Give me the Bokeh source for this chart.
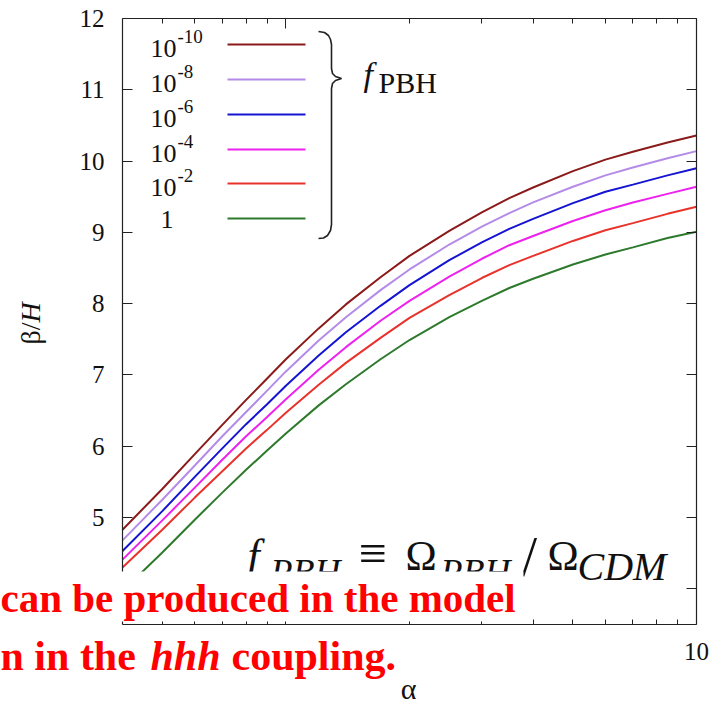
import math
from bokeh.plotting import figure
from bokeh.models import (Range1d, FixedTicker, LogAxis, LinearAxis, Label,
                          PolyAnnotation)
from bokeh.embed import file_html
from bokeh.resources import INLINE

# alpha values and beta/H for each PBH fraction
alpha = [0.4, 0.5, 0.6, 0.7, 0.8, 0.9, 1.0, 1.2, 1.4, 1.7,
         2.0, 2.5, 3.0, 3.5, 4.0, 5.0, 6.0, 7.0, 8.5, 10.0]
beta_h_f1e10 = [4.83, 5.40, 5.89, 6.30, 6.65, 6.95, 7.22, 7.65, 7.99, 8.37,
                8.67, 9.02, 9.28, 9.48, 9.63, 9.86, 10.02, 10.13, 10.26, 10.36]
beta_h_f1e8 = [4.68, 5.25, 5.73, 6.14, 6.48, 6.78, 7.05, 7.48, 7.81, 8.19,
               8.48, 8.83, 9.08, 9.27, 9.42, 9.64, 9.80, 9.91, 10.04, 10.14]
beta_h_f1e6 = [4.53, 5.09, 5.57, 5.97, 6.31, 6.59, 6.85, 7.27, 7.60, 7.97,
               8.26, 8.61, 8.86, 9.05, 9.19, 9.41, 9.57, 9.67, 9.80, 9.90]
beta_h_f1e4 = [4.41, 4.96, 5.42, 5.81, 6.14, 6.41, 6.66, 7.07, 7.39, 7.76,
               8.04, 8.38, 8.63, 8.82, 8.95, 9.16, 9.31, 9.42, 9.54, 9.64]
beta_h_f1e2 = [4.30, 4.83, 5.28, 5.65, 5.97, 6.23, 6.47, 6.86, 7.17, 7.52,
               7.80, 8.12, 8.36, 8.54, 8.67, 8.88, 9.03, 9.13, 9.26, 9.36]
beta_h_f1 = [3.97, 4.51, 4.97, 5.35, 5.67, 5.94, 6.18, 6.57, 6.87, 7.22,
             7.49, 7.81, 8.04, 8.22, 8.35, 8.55, 8.69, 8.79, 8.92, 9.01]

series = [beta_h_f1e10, beta_h_f1e8, beta_h_f1e6, beta_h_f1e4, beta_h_f1e2, beta_h_f1]
legend_base = ["10", "10", "10", "10", "10", "1"]
legend_exp = ["-10", "-8", "-6", "-4", "-2", ""]
colors = ["#8b1a1a", "#b48ce8", "#1414d2", "#ee22ee", "#e8322a", "#2d7a2d"]

x_bounds = (0.4, 10.0)
y_bounds = (3.5, 12.0)
y_ticks = [4, 5, 6, 7, 8, 9, 10, 11, 12]
x_ticks = [1, 10]
x_minor = [0.5, 0.6, 0.7, 0.8, 0.9, 2, 3, 4, 5, 6, 7, 8, 9]

SERIF = "Liberation Serif"
INK = "#222222"

# canvas size and where the axes box sits on it (pixels)
W, H = 716, 707
BOX_L, BOX_R, BOX_T, BOX_B = 122, 696, 18, 624

# widen the ranges so the axes box lands at the pixels above while the
# frame spans the whole canvas
px_per_dec = (BOX_R - BOX_L) / math.log10(x_bounds[1] / x_bounds[0])
x0 = x_bounds[0] * 10 ** (-BOX_L / px_per_dec)
x1 = x_bounds[1] * 10 ** ((W - BOX_R) / px_per_dec)
px_per_unit = (BOX_B - BOX_T) / (y_bounds[1] - y_bounds[0])
y1 = y_bounds[1] + BOX_T / px_per_unit
y0 = y_bounds[0] - (H - BOX_B) / px_per_unit

p = figure(width=W, height=H, x_axis_type="log",
           x_range=Range1d(x0, x1), y_range=Range1d(y0, y1),
           min_border=0, min_border_left=0, min_border_right=0,
           min_border_top=0, min_border_bottom=0,
           output_backend="svg", toolbar_location=None,
           background_fill_color="white", border_fill_color="white")
p.grid.visible = False
p.outline_line_color = None

xt = FixedTicker(ticks=x_ticks, minor_ticks=x_minor)
yt = FixedTicker(ticks=y_ticks, minor_ticks=[])


def style_axis(ax, show_labels):
    ax.axis_line_color = INK
    ax.axis_line_width = 1.2
    ax.major_tick_line_color = INK
    ax.minor_tick_line_color = INK
    ax.major_tick_in = 10
    ax.major_tick_out = 0
    ax.minor_tick_in = 5
    ax.minor_tick_out = 0
    ax.major_label_text_font = SERIF
    ax.major_label_text_font_size = "25px"
    ax.major_label_standoff = 18
    if show_labels:
        ax.major_label_text_color = "#111111"
    else:
        ax.major_label_text_color = None


xa = p.xaxis[0]
xa.ticker = xt
xa.bounds = x_bounds
xa.fixed_location = y_bounds[0]
xa.major_label_overrides = {1: "1", 10: "10"}
style_axis(xa, True)

ya = p.yaxis[0]
ya.ticker = yt
ya.bounds = y_bounds
ya.fixed_location = x_bounds[0]
style_axis(ya, True)

top_ax = LogAxis(ticker=xt, bounds=x_bounds, fixed_location=y_bounds[1])
style_axis(top_ax, False)
p.add_layout(top_ax, "above")
right_ax = LinearAxis(ticker=yt, bounds=y_bounds, fixed_location=x_bounds[1])
style_axis(right_ax, False)
p.add_layout(right_ax, "right")

for vals, col in zip(series, colors):
    p.line(alpha, vals, line_color=col, line_width=2)

# the label anchor sits a little above the drawn baseline; this shifts the
# anchor so the baseline lands where asked
BASE_SHIFT = 0.35


def label(x, y, text, size, style="normal", color="#111111", align="left",
          angle=0.0, font=SERIF):
    px = float(size.replace("px", ""))
    if angle == 0.0:
        y = y - BASE_SHIFT * px
    else:
        x = x - BASE_SHIFT * px
    lab = Label(x=x, y=y, x_units="canvas", y_units="canvas", text=text,
                text_font=font, text_font_size=size, text_font_style=style,
                text_color=color, text_align=align, text_baseline="alphabetic",
                angle=angle)
    p.add_layout(lab)
    return lab


def stroke(xs, ys, color, width):
    p.add_layout(PolyAnnotation(xs=xs, ys=ys, xs_units="canvas", ys_units="canvas",
                                line_color=color, line_alpha=1.0,
                                line_width=width, fill_alpha=0))


def white_patch(left, top, right, bottom):
    p.add_layout(PolyAnnotation(xs=[left, right, right, left],
                                ys=[top, top, bottom, bottom],
                                xs_units="canvas", ys_units="canvas",
                                fill_color="white", fill_alpha=1.0,
                                line_color=None))


# axis titles
label(40, 344, "β/", "28px", angle=math.pi / 2)
label(40, 322, "H", "28px", style="italic", angle=math.pi / 2)
label(408, 698, "α", "30px", align="center")

# key: labels on the left, line samples on the right
row_y = [44, 79, 114, 149, 183, 218]
for ry, base, ex, col in zip(row_y, legend_base, legend_exp, colors):
    if ex:
        label(176, ry + 13, base, "26px", align="right")
        label(177, ry - 1, ex, "19px")
    else:
        label(173, ry + 10, base, "26px", align="right")
    stroke([227, 305], [ry, ry], col, 2)

# brace grouping the key entries
brace_pts = [(318, 31), (324, 32), (328, 35), (330, 39), (331, 44), (331, 68),
             (332, 73), (335, 76), (341, 78), (335, 80), (332, 83), (331, 88),
             (331, 224), (330, 230), (327, 235), (323, 237.5), (318, 238)]
path = brace_pts + brace_pts[::-1]
stroke([q[0] for q in path], [q[1] for q in path], INK, 1.6)
label(363, 86, "f", "34px", style="italic")
label(378, 92, "PBH", "30px")

# definition of the PBH fraction
label(247, 570, "f", "44px", style="italic")
label(270, 584, "PBH", "36px", style="italic")
label(358, 570, "≡", "50px")
label(405, 570, "Ω", "42px")
label(440, 584, "PBH", "36px", style="italic")
label(521, 576, "/", "56px")
label(547, 570, "Ω", "42px")
label(577, 580, "CDM", "40px", style="italic")

# red remarks on white strips
white_patch(0, 571, 523, 621)
white_patch(0, 630, 402, 684)
RED = "#ff0000"
label(0, 612, "can be produced in the model", "41px", style="bold", color=RED)
label(0, 670, "n in the", "42px", style="bold", color=RED)
label(150, 670, "hhh", "42px", style="bold italic", color=RED)
label(231, 670, "coupling.", "42px", style="bold", color=RED)

open("out.html", "w").write(file_html(p, INLINE))
